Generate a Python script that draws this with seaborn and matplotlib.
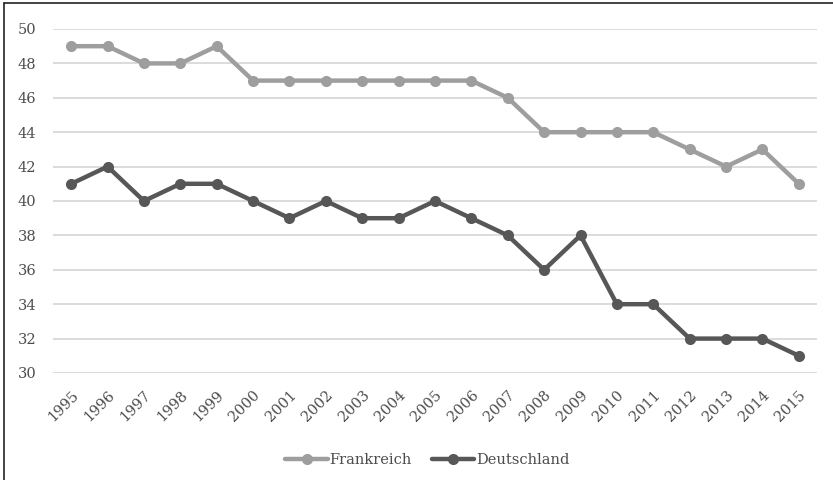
import matplotlib
matplotlib.use("Agg")
import matplotlib.pyplot as plt
from matplotlib.lines import Line2D
import seaborn as sns
import pandas as pd

years = [str(y) for y in range(1995, 2016)]
frankreich = [49, 49, 48, 48, 49, 47, 47, 47, 47, 47, 47, 47, 46, 44, 44, 44, 44, 43, 42, 43, 41]
deutschland = [41, 42, 40, 41, 41, 40, 39, 40, 39, 39, 40, 39, 38, 36, 38, 34, 34, 32, 32, 32, 31]
series_names = ["Frankreich", "Deutschland"]
series_colors = ["#9e9e9e", "#575757"]

df = pd.DataFrame({"Jahr": years * 2,
                   "Wert": frankreich + deutschland,
                   "Land": [series_names[0]] * len(years) + [series_names[1]] * len(years)})

sns.set_theme(style="white")
plt.rcParams["font.family"] = ["DejaVu Serif"]
text_color = "#4d4d4d"

fig = plt.figure(figsize=(8.33, 4.8), dpi=100)
ax = fig.add_axes([53 / 833, 1 - 373 / 480, (817 - 53) / 833, (373 - 29) / 480])

sns.lineplot(data=df, x="Jahr", y="Wert", hue="Land", palette=series_colors,
             marker="o", markersize=8, markeredgewidth=0, linewidth=3.2,
             sort=False, legend=False, ax=ax)

ax.set_xlim(-0.5, len(years) - 0.5)
ax.set_ylim(30, 50)
ax.set_yticks(range(30, 51, 2))
ax.yaxis.grid(True, color="#d9d9d9", linewidth=1.3)
ax.set_axisbelow(True)
for s in ax.spines.values():
    s.set_visible(False)
ax.set_xlabel("")
ax.set_ylabel("")
ax.tick_params(axis="both", length=0, colors=text_color, labelsize=10.5)
ax.tick_params(axis="y", pad=12)
ax.tick_params(axis="x", pad=11)
plt.setp(ax.get_xticklabels(), rotation=45, ha="right", rotation_mode="anchor")

handles = [Line2D([0], [0], color=c, lw=3.2, marker="o", markersize=8, markeredgewidth=0)
           for c in series_colors]
fig.legend(handles, series_names, loc="center", bbox_to_anchor=(0.513, 1 - 460 / 480),
           ncol=2, frameon=False, fontsize=10.5, labelcolor=text_color,
           handlelength=2.9, handletextpad=0.1, columnspacing=1.4)

# outer frame (top and left edge)
fig.add_artist(Line2D([4 / 833, 4 / 833], [0, 1 - 3 / 480], transform=fig.transFigure,
                      color="#222222", lw=1.2))
fig.add_artist(Line2D([4 / 833, 1], [1 - 3 / 480, 1 - 3 / 480], transform=fig.transFigure,
                      color="#222222", lw=1.2))

fig.savefig("out.png", dpi=100)
